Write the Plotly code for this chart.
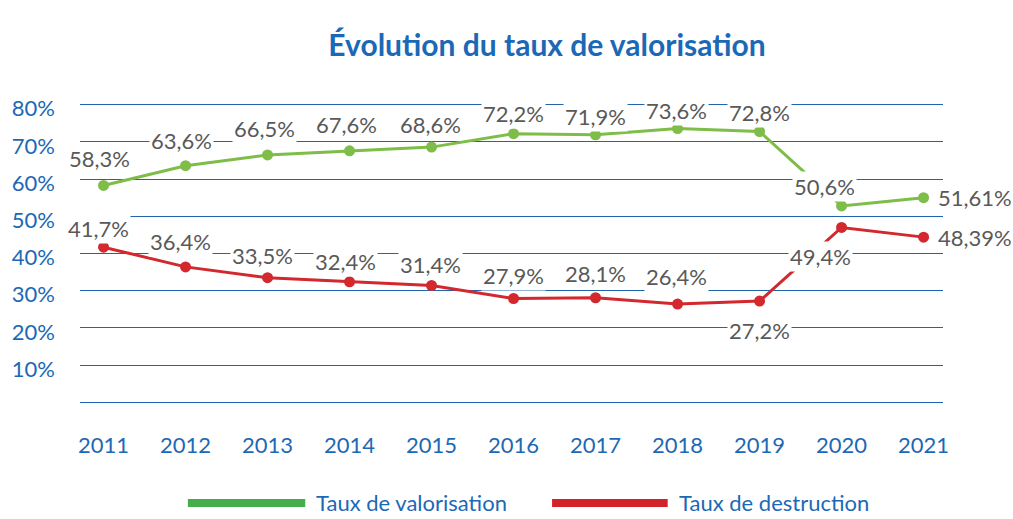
import plotly.graph_objects as go

# --- data -----------------------------------------------------------------
years = ["2011", "2012", "2013", "2014", "2015", "2016",
         "2017", "2018", "2019", "2020", "2021"]

# values as drawn on the chart (last two points sit a bit off their labels)
valorisation = [58.3, 63.6, 66.5, 67.6, 68.6, 72.2, 71.9, 73.6, 72.8, 52.8, 55.0]
destruction = [41.7, 36.4, 33.5, 32.4, 31.4, 27.9, 28.1, 26.4, 27.2, 47.0, 44.4]

valorisation_labels = ["58,3%", "63,6%", "66,5%", "67,6%", "68,6%", "72,2%",
                       "71,9%", "73,6%", "72,8%", "50,6%", "51,61%"]
destruction_labels = ["41,7%", "36,4%", "33,5%", "32,4%", "31,4%", "27,9%",
                      "28,1%", "26,4%", "27,2%", "49,4%", "48,39%"]

y_ticks = [0, 10, 20, 30, 40, 50, 60, 70, 80]
y_tick_text = ["", "10%", "20%", "30%", "40%", "50%", "60%", "70%", "80%"]

# --- style ----------------------------------------------------------------
FONT = "Lato"
BLUE = "#1b69b6"
GRID = "#2263ae"
GREEN = "#7dbd48"
RED = "#d2282e"
LABEL_GREY = "#595959"

# label offsets in px (dx, dy) relative to each point, screen y pointing up
VAL_OFFSETS = [(-4, 27), (-4, 25), (-3, 26), (-3, 26), (-1, 23), (0, 20),
               (0, 18), (-1, 18), (0, 19), (-17, 19), None]
DES_OFFSETS = [(-5, 19), (-5, 25), (-5, 22), (-4, 20), (-1, 21), (0, 23),
               (0, 24), (-1, 28), (0, -29), (-21, -29), None]

fig = go.Figure()

for name, values, colour in [("Taux de valorisation", valorisation, GREEN),
                             ("Taux de destruction", destruction, RED)]:
    fig.add_trace(go.Scatter(
        x=years, y=values, name=name, mode="lines+markers",
        line=dict(color=colour, width=3),
        marker=dict(color=colour, size=11),
        showlegend=False, hoverinfo="skip",
    ))

annotations = []
for values, labels, offsets in [(valorisation, valorisation_labels, VAL_OFFSETS),
                                (destruction, destruction_labels, DES_OFFSETS)]:
    # numeric-looking category names are read as indices by annotations,
    # so position them by category index
    for i, (y, text, off) in enumerate(zip(values, labels, offsets)):
        ann = dict(x=i, y=y, text=text, showarrow=False, bgcolor="white",
                   borderpad=1, font=dict(family=FONT, size=22, color=LABEL_GREY))
        if off is None:
            ann.update(xanchor="left", xshift=12, yshift=0)
        else:
            ann.update(xanchor="center", xshift=off[0], yshift=off[1])
        annotations.append(ann)

# hand-drawn legend below the plot (long thick swatches)
legend_y = -0.318
for x0, x1, tx, colour, text in [(0.125, 0.261, 0.271, "#45ad4a", "Taux de valorisation"),
                                 (0.547, 0.681, 0.692, "#d2232a", "Taux de destruction")]:
    fig.add_shape(type="line", xref="paper", yref="paper", x0=x0, x1=x1,
                  y0=legend_y, y1=legend_y, line=dict(color=colour, width=8))
    annotations.append(dict(x=tx, y=legend_y, xref="paper", yref="paper",
                            text=text, showarrow=False, xanchor="left",
                            yanchor="middle",
                            font=dict(family=FONT, size=22, color=BLUE)))

fig.update_layout(
    width=1013, height=519,
    margin=dict(l=80, r=70, t=101, b=113),
    plot_bgcolor="white", paper_bgcolor="white",
    title=dict(text="Évolution du taux de valorisation",
               x=0.54, xref="container", xanchor="center",
               y=0.913, yref="container", yanchor="middle",
               font=dict(family=FONT, size=30, weight=700, color=BLUE)),
    annotations=annotations,
    showlegend=False,
)
fig.update_xaxes(
    type="category", range=[-0.287, 10.237],
    showgrid=False, showline=False, zeroline=False, ticks="",
    ticklabelstandoff=24,
    tickfont=dict(family=FONT, size=22, color=BLUE),
)
fig.update_yaxes(
    range=[-1, 81], tickvals=y_ticks, ticktext=y_tick_text,
    showgrid=True, gridcolor=GRID, gridwidth=1.3,
    zeroline=False, showline=False, ticks="",
    ticklabelstandoff=24, ticklabelshift=4,
    tickfont=dict(family=FONT, size=22, color=BLUE),
)

# the page body has a default 8px margin; drop it so the figure fills the window
fig.write_html("out.html", config={"displayModeBar": False},
               post_script="document.body.style.margin='0';")
